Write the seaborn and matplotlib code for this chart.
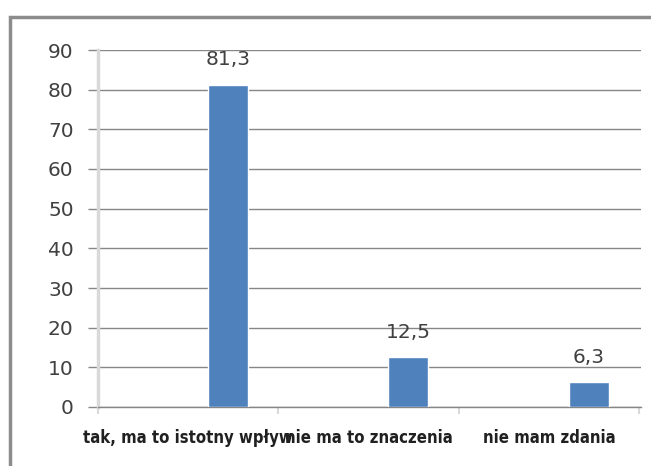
import matplotlib
matplotlib.use("Agg")
import matplotlib.pyplot as plt
from matplotlib.patches import Rectangle
import numpy as np
import pandas as pd
import seaborn as sns

categories = ["tak, ma to istotny wpływ", "nie ma to znaczenia", "nie mam zdania"]
values = [81.3, 12.5, 6.3]
value_labels = ["81,3", "12,5", "6,3"]
y_ticks = [0, 10, 20, 30, 40, 50, 60, 70, 80, 90]

BAR_COLOR = "#4F81BD"
GRID_COLOR = "#868686"
AXIS_LIGHT = "#D9D9D9"
TEXT_COLOR = "#404040"

sns.set_theme(style="white")
plt.rcParams["font.family"] = ["DejaVu Sans"]

fig = plt.figure(figsize=(6.51, 4.66), dpi=100)
ax = fig.add_axes([98 / 651, 59 / 466, 543 / 651, 357 / 466])

# bars sit right of the category centre, as in the clustered layout
offset = 0.22
df = pd.DataFrame({"pos": np.arange(len(categories)) + offset, "value": values})
sns.barplot(data=df, x="pos", y="value", native_scale=True, width=0.22,
            color=BAR_COLOR, saturation=1, ax=ax, zorder=3)

ax.set_xlim(-0.5, len(categories) - 0.5 + 0.01)
ax.set_ylim(0, 90)
ax.set_xlabel("")
ax.set_ylabel("")

# horizontal gridlines
ax.set_yticks(y_ticks)
ax.set_yticklabels([str(t) for t in y_ticks], fontsize=14.5, color=TEXT_COLOR)
ax.yaxis.grid(True, color=GRID_COLOR, linewidth=1.0, zorder=0)
ax.set_axisbelow(True)
ax.tick_params(axis="y", length=7.5, width=1.0, color=GRID_COLOR, pad=10, left=True)

# category boundaries as major ticks, names on minor ticks
ax.set_xticks(np.arange(len(categories) + 1) - 0.5)
ax.set_xticklabels([])
ax.set_xticks(np.arange(len(categories)), minor=True)
ax.set_xticklabels(categories, minor=True, fontsize=12, fontweight="bold",
                   fontstretch="condensed", color="#202020")
ax.tick_params(axis="x", which="major", length=5, width=1.5, color=AXIS_LIGHT, bottom=True)
ax.tick_params(axis="x", which="minor", length=0, pad=15.5)

for side in ["top", "right"]:
    ax.spines[side].set_visible(False)
ax.spines["left"].set_color(AXIS_LIGHT)
ax.spines["left"].set_linewidth(2.5)
ax.spines["bottom"].set_color(GRID_COLOR)
ax.spines["bottom"].set_linewidth(1.0)

for x, v, lab in zip(df["pos"], values, value_labels):
    ax.annotate(lab, (x, v), xytext=(0, 11), textcoords="offset points",
                ha="center", va="bottom", fontsize=14.5, color=TEXT_COLOR)

# outer chart frame
fig.patches.append(Rectangle((10 / 651, -0.1), 1.2, 1 - 17 / 466 + 0.1,
                             transform=fig.transFigure, fill=False,
                             edgecolor="#8C8C8C", linewidth=2.5))

fig.savefig("out.png", dpi=100)
